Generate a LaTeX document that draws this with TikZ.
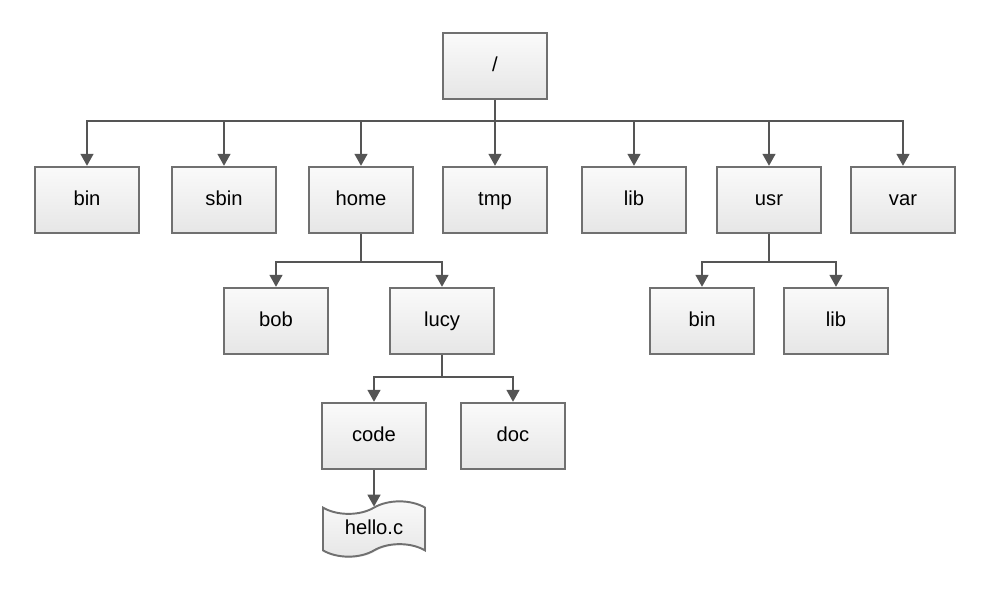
\documentclass[tikz,border=0pt]{standalone}
\usepackage{fontspec}
\setmainfont{Liberation Sans}
\usetikzlibrary{arrows.meta, shapes.symbols, shadows}

\definecolor{boxline}{HTML}{707070}
\definecolor{linkline}{HTML}{555555}
\definecolor{boxtop}{HTML}{FAFAFA}
\definecolor{boxbottom}{HTML}{E6E6E6}

\begin{document}
\begin{tikzpicture}[
        x=0.02cm, y=-0.02cm,
        font=\fontsize{11.5}{14}\selectfont,
        >={Triangle[width=2.6mm,length=2.4mm]},
        base/.style={draw=boxline, line width=1.1pt, align=center,
            text height=1.6ex, text depth=0.4ex,
            top color=boxtop, bottom color=boxbottom,
            drop shadow={opacity=0.25, shadow xshift=0.6pt, shadow yshift=-0.6pt}},
        folder/.style={base, rectangle, minimum width=2.08cm, minimum height=1.33cm},
        file/.style={base, tape, tape bend height=2.5mm, minimum width=2.04cm, minimum height=0.95cm},
        arrow/.style={->, line width=0.9pt, color=linkline},
        link/.style={line width=0.9pt, color=linkline},
    ]
    \useasboundingbox (0,0) rectangle (993,607);

    % Nodes
    \node[folder] (root) at (495,66) {/};

    \node[folder] (bin)  at (87,200)  {bin};
    \node[folder] (sbin) at (224,200) {sbin};
    \node[folder] (home) at (361,200) {home};
    \node[folder] (tmp)  at (495,200) {tmp};
    \node[folder] (lib)  at (634,200) {lib};
    \node[folder] (usr)  at (769,200) {usr};
    \node[folder] (var)  at (903,200) {var};

    \node[folder] (bob)  at (276,321) {bob};
    \node[folder] (lucy) at (442,321) {lucy};
    \node[folder] (usrbin) at (702,321) {bin};
    \node[folder] (usrlib) at (836,321) {lib};

    \node[folder] (code) at (374,436) {code};
    \node[folder] (doc)  at (513,436) {doc};

    \node[file] (hello) at (374,529) {hello.c};

    % Bus lines
    \coordinate (rootbus) at (495,121);
    \coordinate (homebus) at (361,262);
    \coordinate (usrbus)  at (769,262);
    \coordinate (lucybus) at (442,377);

    % Arrows
    \draw[link] (root.south) -- (rootbus);
    \foreach \n in {bin, sbin, home, tmp, lib, usr, var}
        \draw[arrow] (rootbus) -| (\n.north);

    \draw[link] (home.south) -- (homebus);
    \foreach \n in {bob, lucy}
        \draw[arrow] (homebus) -| (\n.north);

    \draw[link] (usr.south) -- (usrbus);
    \foreach \n in {usrbin, usrlib}
        \draw[arrow] (usrbus) -| (\n.north);

    \draw[link] (lucy.south) -- (lucybus);
    \foreach \n in {code, doc}
        \draw[arrow] (lucybus) -| (\n.north);

    \draw[arrow] (code.south) -- (hello.north);

\end{tikzpicture}
\end{document}
